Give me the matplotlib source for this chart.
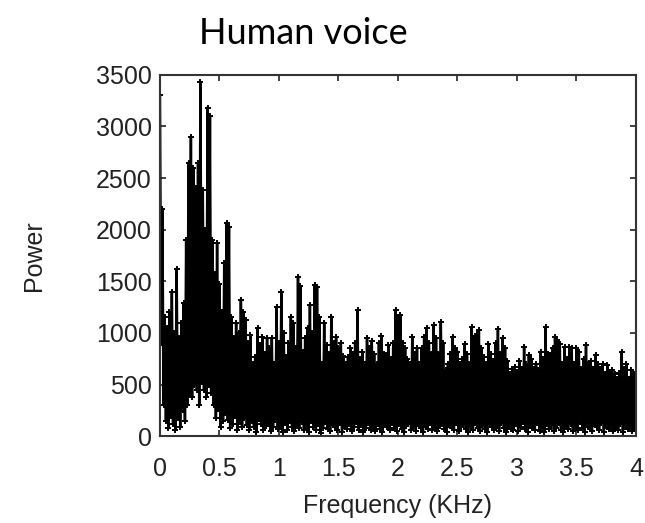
import numpy as np
import matplotlib
matplotlib.use("Agg")
import matplotlib.pyplot as plt

# ---------------------- data ----------------------
# spike tops, one every 0.02 KHz starting at 0.00
peak_power = [
    3300, 2200, 1150, 1050, 1200, 1400, 1000, 1620, 950, 1100, 1290, 1900, 2650, 2900, 2600, 2400, 2650, 3430, 2380, 2000,
    3180, 3100, 1900, 1570, 1870, 1470, 1200, 1680, 2065, 2030, 1150, 950, 1095, 1000, 1320, 1200, 1125, 900, 980, 700,
    765, 1045, 880, 960, 800, 950, 850, 950, 700, 1250, 900, 1395, 1000, 765, 900, 1150, 1100, 850, 1540, 1450,
    820, 950, 1050, 1270, 1000, 1460, 1440, 1150, 700, 1100, 880, 800, 1150, 900, 960, 850, 900, 780, 700, 765,
    850, 800, 900, 1220, 750, 820, 700, 950, 850, 920, 800, 700, 900, 970, 800, 790, 880, 750, 900, 1220,
    1150, 1170, 900, 850, 750, 700, 960, 800, 850, 700, 850, 960, 1045, 900, 800, 1075, 950, 800, 1110, 900,
    640, 700, 800, 960, 850, 820, 700, 750, 890, 800, 700, 1060, 950, 990, 1030, 850, 765, 700, 890, 800,
    730, 900, 1035, 800, 950, 850, 730, 600, 650, 670, 620, 730, 650, 860, 700, 790, 750, 650, 700, 640,
    820, 750, 1060, 800, 790, 850, 960, 930, 890, 700, 860, 750, 860, 850, 700, 850, 820, 650, 750, 880,
    700, 730, 650, 790, 700, 650, 700, 600, 690, 620, 640, 600, 550, 610, 815, 650, 700, 550, 640, 600,
]
# dips between the spikes, one every 0.02 KHz starting at 0.01
dip_power = [
    900, 300, 150, 80, 200, 120, 60, 180, 90, 250, 150, 300, 420, 380, 500, 450, 300, 520, 450, 380,
    500, 420, 300, 180, 260, 90, 150, 220, 160, 80, 120, 200, 60, 140, 90, 180, 110, 60, 150, 90,
    40, 170, 120, 60, 100, 140, 50, 90, 160, 70, 110, 40, 130, 60, 150, 90, 50, 120, 80, 140,
    60, 100, 40, 150, 90, 60, 120, 30, 80, 140, 70, 50, 110, 90, 60, 130, 40, 100, 70, 120,
    50, 90, 140, 60, 110, 40, 80, 130, 60, 100, 50, 120, 70, 40, 110, 90, 60, 130, 80, 50,
    120, 70, 40, 100, 140, 60, 90, 50, 120, 80, 40, 110, 70, 130, 60, 90, 50, 100, 140, 70,
    40, 110, 80, 60, 130, 50, 90, 120, 70, 40, 100, 60, 130, 80, 50, 110, 70, 40, 120, 90,
    60, 100, 50, 130, 80, 40, 110, 70, 60, 120, 50, 90, 140, 70, 40, 100, 80, 60, 130, 50,
    90, 40, 120, 70, 110, 50, 80, 130, 60, 40, 100, 70, 120, 50, 90, 60, 140, 80, 40, 110,
    70, 50, 120, 90, 60, 130, 40, 100, 70, 110, 50, 80, 60, 120, 40, 90, 70, 110, 50, 80,
]
x_ticks = [0, 0.5, 1, 1.5, 2, 2.5, 3, 3.5, 4]
x_tick_labels = ["0", "0.5", "1", "1.5", "2", "2.5", "3", "3.5", "4"]
y_ticks = [0, 500, 1000, 1500, 2000, 2500, 3000, 3500]

# interleave spikes and dips on a 0.01 KHz grid
power = np.empty(len(peak_power) + len(dip_power))
power[0::2] = peak_power
power[1::2] = dip_power
freq = np.arange(len(power)) * 0.01

# ---------------------- plot ----------------------
plt.rcParams["font.family"] = ["Liberation Sans", "DejaVu Sans"]

fig = plt.figure(figsize=(6.45, 5.23), dpi=100)
ax = fig.add_axes([0.248, 0.166, 0.738, 0.691])

ax.plot(freq, power, color="black", linewidth=1.8, marker="+", markersize=5,
        markeredgewidth=1.4)

ax.set_xlim(0, 4)
ax.set_ylim(0, 3500)
ax.set_xticks(x_ticks)
ax.set_xticklabels(x_tick_labels)
ax.set_yticks(y_ticks)
ax.tick_params(direction="in", top=True, right=True, length=4, width=1.2,
               labelsize=18, colors="#222222")
ax.tick_params(axis="x", pad=15)
ax.tick_params(axis="y", pad=6)
for s in ax.spines.values():
    s.set_linewidth(1.5)
    s.set_color("#333333")

ax.set_xlabel("Frequency (KHz)", fontsize=18, color="#222222", labelpad=9)
ax.set_ylabel("Power", fontsize=18, color="#222222", labelpad=36)

fig.text(0.47, 0.935, "Human voice", ha="center", va="center",
         fontsize=26, family=["Lato", "DejaVu Sans"])

fig.savefig("out.png", dpi=100)
